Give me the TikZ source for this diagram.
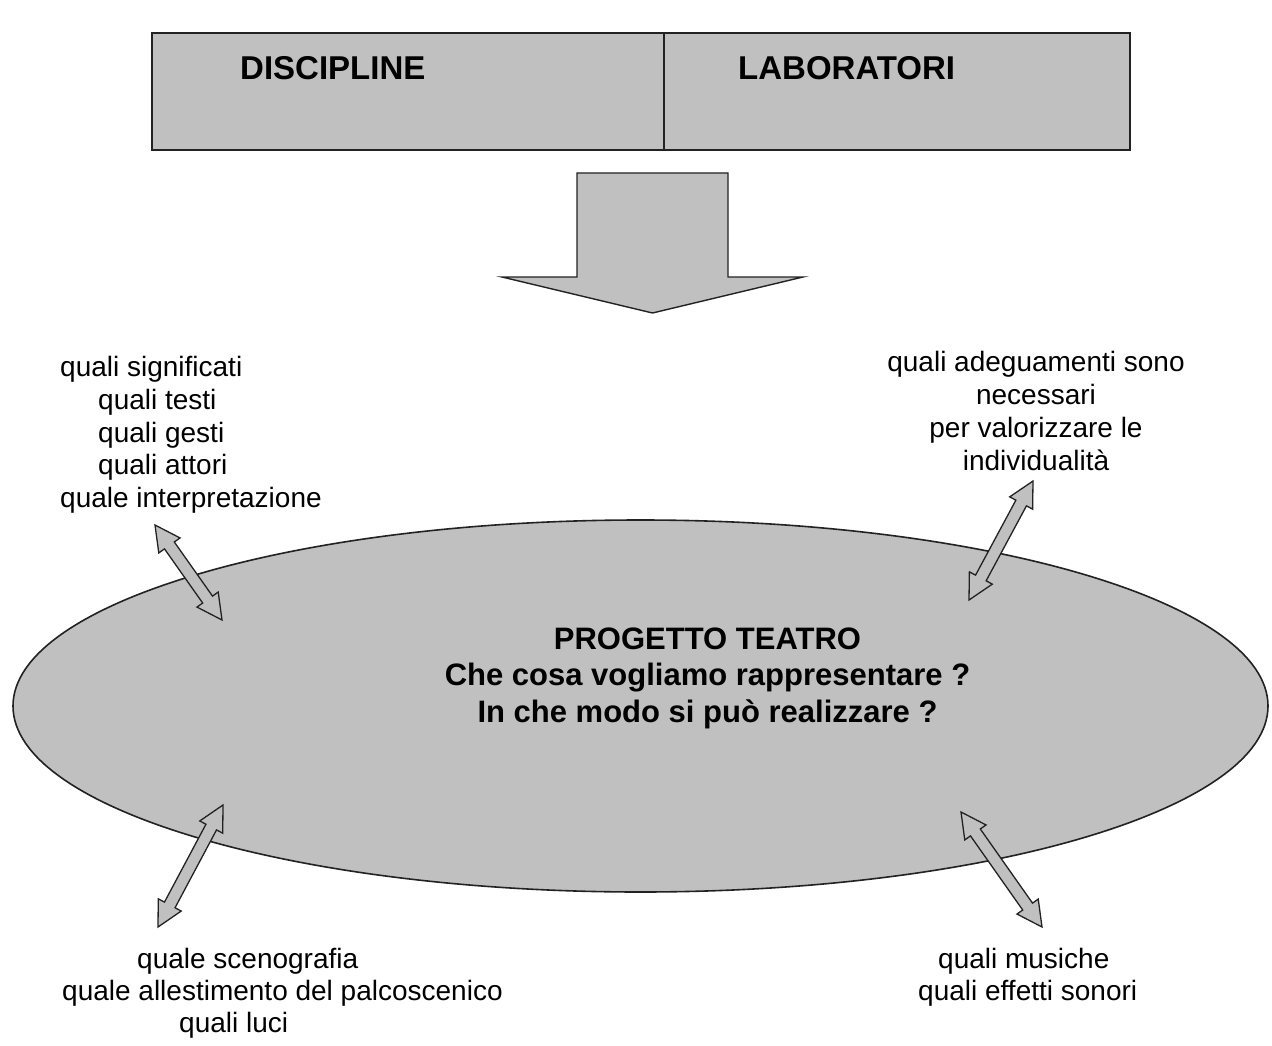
\documentclass[tikz,border=0pt]{standalone}
\usepackage{fontspec}
\setmainfont{Liberation Sans}
\usetikzlibrary{calc}
\definecolor{boxgray}{HTML}{C0C0C0}
\definecolor{edgecol}{HTML}{222222}
\tikzset{
  shapeline/.style={draw=edgecol, line width=1.4pt, fill=boxgray, line join=miter},
  arrowshape/.style={draw=edgecol, line width=1.3pt, fill=boxgray, line join=miter},
  txt/.style={inner sep=0pt, font=\fontsize{28}{33}\selectfont},
  txtw/.style={txt, anchor=base west},
  txtc/.style={txt, anchor=base},
  headtxt/.style={inner sep=0pt, anchor=base west, font=\fontsize{33}{38}\selectfont\bfseries},
  midtxt/.style={inner sep=0pt, anchor=base, font=\fontsize{31}{36}\selectfont\bfseries}
}
\newcommand{\dblarrow}[2]{%
  \coordinate (#1c) at ($(#1)!25pt!(#2)$);
  \coordinate (#1d) at ($(#2)!25pt!(#1)$);
  \draw[arrowshape] (#1)
    -- ($(#1c)!13pt!90:(#2)$) -- ($(#1c)!6pt!90:(#2)$)
    -- ($(#1d)!6pt!90:(#2)$) -- ($(#1d)!13pt!90:(#2)$)
    -- (#2)
    -- ($(#1d)!13pt!-90:(#2)$) -- ($(#1d)!6pt!-90:(#2)$)
    -- ($(#1c)!6pt!-90:(#2)$) -- ($(#1c)!13pt!-90:(#2)$)
    -- cycle;}
\begin{document}
\begin{tikzpicture}[x=1pt,y=-1pt]
\useasboundingbox (0,0) rectangle (1272,1046);
% top boxes
\coordinate (boxtl) at (152,33);
\coordinate (boxmid) at (664,150);
\coordinate (boxmidt) at (664,33);
\coordinate (boxbr) at (1130,150);
\draw[shapeline] (boxtl) rectangle (boxmid);
\draw[shapeline] (boxmidt) rectangle (boxbr);
\node[headtxt] (disc) at (240,80) {DISCIPLINE};
\node[headtxt] (lab) at (738,80) {LABORATORI};
% big down arrow
\coordinate (dtip) at (652.5,313);
\draw[shapeline] (577,173) -- (728,173) -- (728,277) -- (803,277) -- (dtip)
  -- (502,277) -- (577,277) -- cycle;
% ellipse
\coordinate (ellc) at (640.5,706);
\draw[shapeline, line width=1.6pt] (ellc) ellipse [x radius=627.5, y radius=186];
\node[midtxt] (m1) at (707.5,649) {PROGETTO TEATRO};
\node[midtxt] (m2) at (707.5,685.5) {Che cosa vogliamo rappresentare ?};
\node[midtxt] (m3) at (707.5,722) {In che modo si può realizzare ?};
% top-left text
\node[txtw] (tl1) at (60,376) {quali significati};
\node[txtw] (tl2) at (98,409) {quali testi};
\node[txtw] (tl3) at (98,442) {quali gesti};
\node[txtw] (tl4) at (98,474) {quali attori};
\node[txtw] (tl5) at (60,507) {quale interpretazione};
% top-right text
\node[txtc] (tr1) at (1036,371) {quali adeguamenti sono};
\node[txtc] (tr2) at (1036,404) {necessari};
\node[txtc] (tr3) at (1036,437) {per valorizzare le};
\node[txtc] (tr4) at (1036,470) {individualità};
% bottom-left text
\node[txtw] (bl1) at (137,968) {quale scenografia};
\node[txtw] (bl2) at (62,1000) {quale allestimento del palcoscenico};
\node[txtw] (bl3) at (179,1032) {quali luci};
% bottom-right text
\node[txtw] (br1) at (938,968) {quali musiche};
\node[txtw] (br2) at (918,1000) {quali effetti sonori};
% double arrows
\coordinate (ula) at (155,525);
\coordinate (ulb) at (222,620);
\coordinate (ura) at (1033,481);
\coordinate (urb) at (969,600);
\coordinate (lla) at (223,805);
\coordinate (llb) at (158,927);
\coordinate (lra) at (961,812);
\coordinate (lrb) at (1042,927);
\dblarrow{ula}{ulb}
\dblarrow{ura}{urb}
\dblarrow{lla}{llb}
\dblarrow{lra}{lrb}
\end{tikzpicture}
\end{document}
